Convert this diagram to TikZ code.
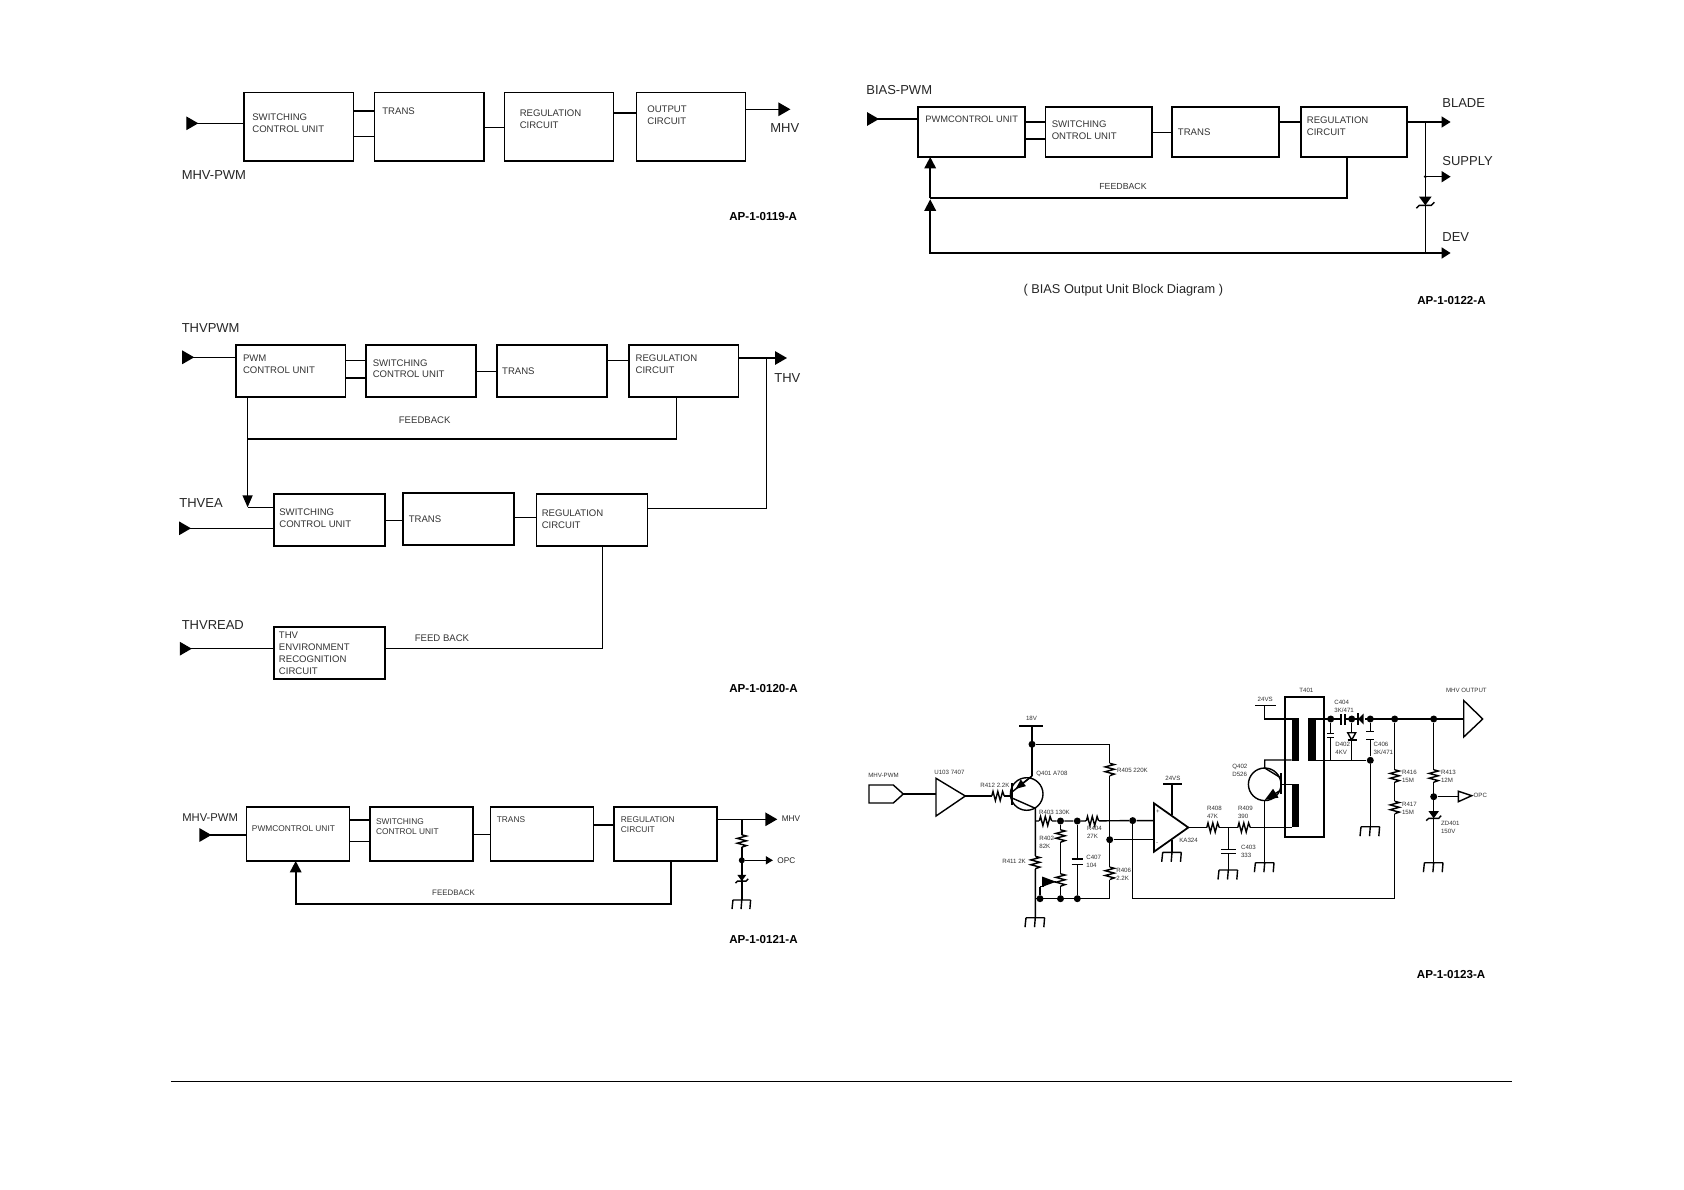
\documentclass[tikz,border=0pt]{standalone}
\usepackage{fontspec}
\setmainfont{Liberation Sans}
\usetikzlibrary{
    arrows.meta % For arrow tips
}

\begin{document}
\begin{tikzpicture}[
    x=0.02cm, y=-0.02cm, % One unit is one pixel of the sheet, y runs down
    inTip/.tip={Triangle[reversed,length=0.24cm,width=0.27cm]},
    outTip/.tip={Triangle[length=0.24cm,width=0.27cm]},
    midTip/.tip={Triangle[length=0.18cm,width=0.22cm]},
    smallTip/.tip={Triangle[length=0.14cm,width=0.16cm]},
    upTip/.tip={Triangle[length=0.23cm,width=0.23cm]},
    downTip/.tip={Triangle[length=0.24cm,width=0.2cm]},
    thin wire/.style={line width=0.72pt, line join=miter},
    wire/.style={line width=0.8pt, line join=miter},
    heavy/.style={line width=1pt},
    blockbox/.style={draw, line width=1pt, inner sep=0pt, outer sep=0pt},
    blockA/.style={blockbox, line width=0.7pt, minimum width=2.188cm, minimum height=1.366cm},
    blockB/.style={blockbox, minimum width=2.196cm, minimum height=1.034cm},
    blockC/.style={blockbox, minimum width=2.224cm, minimum height=1.04cm},
    blockD/.style={blockbox, minimum width=2.06cm, minimum height=1.086cm},
    blockE/.style={blockbox, minimum width=2.134cm, minimum height=1.006cm},
    boxtext/.style={anchor=west, inner sep=0pt, align=left, text=black!80, font=\fontsize{5.45}{6.83}\selectfont},
    boxtextD/.style={boxtext, font=\fontsize{4.75}{5.7}\selectfont},
    biglabel/.style={anchor=west, inner sep=0pt, text=black!85, font=\fontsize{7.4}{9}\selectfont},
    tinylabel/.style={anchor=west, inner sep=0pt, text=black!85, font=\fontsize{4.7}{6}\selectfont},
    partlabel/.style={anchor=west, inner sep=0pt, align=left, text=black!80, font=\fontsize{3.5}{4.55}\selectfont},
    codelabel/.style={anchor=west, inner sep=0pt, font=\bfseries\fontsize{6.6}{8}\selectfont},
    dot/.style={circle, fill, inner sep=0pt, minimum size=0.14cm},
    % Schematic parts, drawn over the wire that runs through them
    resv/.pic={
        \fill[white] (-5,-6.2) rectangle (5,6.2);
        \draw[wire] (0,-6.2) -- (4.6,-5) -- (-4.6,-2.6) -- (4.6,-0.2) -- (-4.6,2.2) -- (4.6,4.6) -- (0,6.2);
    },
    capv/.pic={
        \fill[white] (-1,-1) rectangle (1,1);
        \draw[wire] (-1,-1) -- (1,-1) (-1,1) -- (1,1);
    },
    zener/.pic={
        \fill (-5.3,-3.7) -- (5.3,-3.7) -- (0,3.6) -- cycle;
        \draw[wire] (-7.5,6) -- (-5,3.6) -- (5,3.6) -- (7.5,1);
    },
    gnd/.pic={
        \draw[wire] (-9.3,0) -- (9.3,0) (-9.3,0) -- (-10.3,9.5) (0,0) -- (-0.8,9.5) (9.3,0) -- (8.5,9.5);
    }
]

    \useasboundingbox (0,0) rectangle (1684,1190);
    \fill[white] (0,0) rectangle (1684,1190);

    % ---- AP-1-0119-A ----
    \node[blockA] (switchA) at (298.6,126.8) {};
    \node[blockA] (transA) at (429.2,126.8) {};
    \node[blockA] (regA) at (559,126.8) {};
    \node[blockA] (outA) at (690.8,126.8) {};
    \coordinate (inA) at (186.3,123.3);
    \coordinate (endA) at (790.4,109.3);

    \draw[thin wire, {inTip}-] (inA) -- (switchA.west |- inA);
    \draw[thin wire] (switchA.east |- 0,111) -- (transA.west |- 0,111);
    \draw[thin wire] (switchA.east |- 0,136.7) -- (transA.west |- 0,136.7);
    \draw[thin wire] (transA.east |- 0,127.3) -- (regA.west |- 0,127.3);
    \draw[thin wire] (regA.east |- 0,113) -- (outA.west |- 0,113);
    \draw[thin wire, -{outTip}] (outA.east |- endA) -- (endA);

    \node[boxtext] (switchAtxt) at (252,123.7) {SWITCHING\\CONTROL UNIT};
    \node[boxtext] (transAtxt) at (382,111.3) {TRANS};
    \node[boxtext] (regAtxt) at (519.4,119.2) {REGULATION\\CIRCUIT};
    \node[boxtext] (outAtxt) at (647,115.7) {OUTPUT\\CIRCUIT};
    \node[biglabel] (pwmAlbl) at (181.4,175.3) {MHV-PWM};
    \node[biglabel] (mhvAlbl) at (770,128.3) {MHV};
    \node[codelabel] (codeA) at (729,217) {AP-1-0119-A};

    % ---- AP-1-0120-A ----
    \node[blockB] (pwmB) at (290.6,370.8) {};
    \node[blockB] (switchB) at (421.2,370.8) {};
    \node[blockB] (transB) at (551.85,370.8) {};
    \node[blockB] (regB) at (683.7,370.8) {};
    \node[blockC] (switchC) at (329.4,520) {};
    \node[blockC] (transC) at (458.75,518.7) {};
    \node[blockC] (regC) at (592,520) {};
    \node[blockC] (envC) at (329.4,653.2) {};
    \coordinate (inB) at (182.2,357.3);
    \coordinate (inC) at (179,528.3);
    \coordinate (inD) at (179.8,648.7);
    \coordinate (endB) at (787,358);
    \coordinate (busR) at (766.3,358);
    \coordinate (fbL) at (247.6,438.7);
    \coordinate (fbR) at (676.5,438.7);
    \coordinate (turnC) at (247.6,507.3);
    \coordinate (turnD) at (602.7,648.7);

    \draw[wire, {inTip}-] (inB) -- (pwmB.west |- inB);
    \draw[wire] (pwmB.east |- 0,360.7) -- (switchB.west |- 0,360.7);
    \draw[heavy] (pwmB.east |- 0,378) -- (switchB.west |- 0,378);
    \draw[wire] (switchB.east |- 0,371.3) -- (transB.west |- 0,371.3);
    \draw[wire] (transB.east |- 0,360.7) -- (regB.west |- 0,360.7);
    \draw[wire, -{outTip}] (regB.east |- endB) -- (endB);
    \draw[wire, -{downTip}] (fbL |- pwmB.south) -- (turnC);
    \draw[wire] (turnC) -- (switchC.west |- turnC);
    \draw[heavy] (fbL) -- (fbR);
    \draw[wire] (fbR) -- (fbR |- regB.south);
    \draw[wire, {inTip}-] (inC) -- (switchC.west |- inC);
    \draw[wire] (switchC.east |- 0,520.7) -- (transC.west |- 0,520.7);
    \draw[wire] (transC.east |- 0,517.7) -- (regC.west |- 0,517.7);
    \draw[wire] (regC.east |- 0,508.3) -- (busR |- 0,508.3) -- (busR);
    \draw[wire] (turnD |- regC.south) -- (turnD) -- (envC.east |- turnD);
    \draw[wire, {inTip}-] (inD) -- (envC.west |- inD);

    \node[boxtext] (pwmBtxt) at (242.7,363.8) {PWM\\CONTROL UNIT};
    \node[boxtext] (switchBtxt) at (372.4,368.7) {SWITCHING\\CONTROL UNIT};
    \node[boxtext] (transBtxt) at (501.8,371) {TRANS};
    \node[boxtext] (regBtxt) at (635.3,364) {REGULATION\\CIRCUIT};
    \node[boxtext] (switchCtxt) at (279,518.3) {SWITCHING\\CONTROL UNIT};
    \node[boxtext] (transCtxt) at (408.4,519) {TRANS};
    \node[boxtext] (regCtxt) at (541.4,519.2) {REGULATION\\CIRCUIT};
    \node[boxtext] (envCtxt) at (278.6,653.5) {THV\\ENVIRONMENT\\RECOGNITION\\CIRCUIT};
    \node[boxtext, anchor=center] (fbBtxt) at (424.7,420) {FEEDBACK};
    \node[boxtext] (fbDtxt) at (414.5,638.3) {FEED BACK};
    \node[biglabel] (thvpwm) at (181.4,327.7) {THVPWM};
    \node[biglabel] (thvea) at (179,503.3) {THVEA};
    \node[biglabel] (thvread) at (181.4,625.3) {THVREAD};
    \node[biglabel] (thvlbl) at (774,377.7) {THV};
    \node[codelabel] (codeB) at (729,688.3) {AP-1-0120-A};

    % ---- AP-1-0121-A ----
    \node[blockD] (pwmE) at (298,833.8) {};
    \node[blockD] (switchE) at (421.5,833.8) {};
    \node[blockD] (transE) at (541.9,833.8) {};
    \node[blockD] (regE) at (665.3,833.8) {};
    \coordinate (inE) at (199.4,835);
    \coordinate (endE) at (777.3,819.3);
    \coordinate (tapE) at (741.8,819.3);
    \coordinate (gndE) at (741.8,900);
    \node[dot, minimum size=0.12cm] (opcE) at (741.8,860.3) {};
    \coordinate (opcEnd) at (772.9,860.3);
    \coordinate (fbEL) at (295.7,904);
    \coordinate (fbER) at (670.8,904);

    \draw[wire, {inTip}-] (inE) -- (pwmE.west |- inE);
    \draw[wire] (pwmE.east |- 0,820) -- (switchE.west |- 0,820);
    \draw[wire] (pwmE.east |- 0,841.7) -- (switchE.west |- 0,841.7);
    \draw[wire] (switchE.east |- 0,834.3) -- (transE.west |- 0,834.3);
    \draw[wire] (transE.east |- 0,825) -- (regE.west |- 0,825);
    \draw[wire, -{outTip}] (regE.east |- endE) -- (endE);
    \draw[wire] (tapE) -- (gndE);
    \draw[wire, -{smallTip}] (opcE) -- (opcEnd);
    \draw[heavy, -{upTip}] (fbER |- regE.south) -- (fbER) -- (fbEL) -- (fbEL |- pwmE.south);
    \pic at (741.8,841) {resv};
    \pic[scale=0.85] at (741.8,878) {zener};
    \pic[scale=0.95] at (gndE) {gnd};

    \node[boxtextD] (pwmEtxt) at (251.6,828.3) {PWMCONTROL UNIT};
    \node[boxtextD] (switchEtxt) at (375.7,827) {SWITCHING\\CONTROL UNIT};
    \node[boxtextD] (transEtxt) at (496.5,819.7) {TRANS};
    \node[boxtextD] (regEtxt) at (620.6,824.3) {REGULATION\\CIRCUIT};
    \node[boxtextD, anchor=center, font=\fontsize{4.5}{5.7}\selectfont] (fbEtxt) at (453.5,892.7) {FEEDBACK};
    \node[biglabel, font=\fontsize{6.4}{8}\selectfont] (pwmElbl) at (182,817.3) {MHV-PWM};
    \node[tinylabel] (mhvElbl) at (781.4,819) {MHV};
    \node[tinylabel] (opcElbl) at (777,861) {OPC};
    \node[codelabel] (codeE) at (729,939) {AP-1-0121-A};

    % ---- AP-1-0122-A ----
    \node[blockE] (pwmF) at (971.65,131.8) {};
    \node[blockE] (switchF) at (1098.75,131.8) {};
    \node[blockE] (transF) at (1225.5,131.8) {};
    \node[blockE] (regF) at (1354,131.8) {};
    \coordinate (inF) at (867,119);
    \coordinate (bladeEnd) at (1450.6,122);
    \coordinate (tapF) at (1425.3,122);
    \coordinate (supplyTap) at (1425.3,176.7);
    \coordinate (supplyEnd) at (1450.6,176.7);
    \coordinate (devTap) at (1425.3,253);
    \coordinate (devEnd) at (1450.6,253);
    \coordinate (busL) at (930.2,253);
    \coordinate (joinF) at (930.2,198);
    \coordinate (fbFR) at (1347,198);

    \draw[wire, {inTip}-] (inF) -- (pwmF.west |- inF);
    \draw[wire] (pwmF.east |- 0,122) -- (switchF.west |- 0,122);
    \draw[heavy] (pwmF.east |- 0,139) -- (switchF.west |- 0,139);
    \draw[wire] (switchF.east |- 0,132.7) -- (transF.west |- 0,132.7);
    \draw[wire] (transF.east |- 0,122) -- (regF.west |- 0,122);
    \draw[wire, -{midTip}] (regF.east |- bladeEnd) -- (bladeEnd);
    \draw[thin wire] (tapF) -- (devTap);
    \fill (supplyTap) circle (1.6);
    \draw[wire, -{midTip}] (supplyTap) -- (supplyEnd);
    \draw[heavy, -{upTip}] (devEnd) ++(-9,0) -- (busL) -- (930.2,199.3);
    \draw[heavy, -{midTip}] (devTap) -- (devEnd);
    \draw[wire] (fbFR |- regF.south) -- (fbFR) -- (joinF);
    \draw[heavy, -{upTip}] (joinF) -- (joinF |- pwmF.south);
    \pic[scale=1.2] at (1425.3,201) {zener};

    \node[boxtext, font=\fontsize{5.3}{6.83}\selectfont] (pwmFtxt) at (925,119.7) {PWMCONTROL UNIT};
    \node[boxtext] (switchFtxt) at (1051.4,130.2) {SWITCHING\\ONTROL UNIT};
    \node[boxtext] (transFtxt) at (1177.6,132) {TRANS};
    \node[boxtext] (regFtxt) at (1306.5,125.9) {REGULATION\\CIRCUIT};
    \node[boxtext, anchor=center, font=\fontsize{5}{6}\selectfont] (fbFtxt) at (1123,186.3) {FEEDBACK};
    \node[biglabel] (biaspwm) at (866,89.7) {BIAS-PWM};
    \node[biglabel] (bladelbl) at (1442,103.3) {BLADE};
    \node[biglabel] (supplylbl) at (1442,160.7) {SUPPLY};
    \node[biglabel] (devlbl) at (1442,237) {DEV};
    \node[biglabel, anchor=center, font=\fontsize{7.27}{9}\selectfont] (caption) at (1123.3,290) {( BIAS Output Unit Block Diagram )};
    \node[codelabel] (codeF) at (1417,301) {AP-1-0122-A};

    % ---- AP-1-0123-A, schematic ----
    \coordinate (pwmTip) at (903.3,794);
    \coordinate (bufIn) at (936,794);
    \coordinate (bufOut) at (965.3,796);
    \coordinate (baseA) at (1012,796);
    \coordinate (emitA) at (1032,776);
    \coordinate (collA) at (1035.3,808.3);
    \coordinate (railA) at (1032,726);
    \node[dot] (railDot) at (1032,744.3) {};
    \coordinate (railB) at (1109.7,744.3);
    \coordinate (railC) at (1109.7,898.7);
    \node[dot] (gndDotA) at (1040,898.7) {};
    \node[dot] (gndDotB) at (1060.5,898.7) {};
    \node[dot] (gndDotC) at (1077.3,898.7) {};
    \coordinate (gndA) at (1035.3,917.7);
    \coordinate (nodeA) at (1035.3,821);
    \node[dot] (nodeB) at (1060.5,821) {};
    \node[dot] (nodeC) at (1077.3,821) {};
    \node[dot] (nodeD) at (1132.7,820.6) {};
    \node[dot] (nodeE) at (1109.7,839.7) {};
    \coordinate (ampPlus) at (1154,820.6);
    \coordinate (ampMinus) at (1154,839.7);
    \coordinate (ampOut) at (1188.3,827.5);
    \coordinate (fbBot) at (1132.7,898.7);
    \coordinate (fbTurn) at (1394.7,898.7);
    \node[dot] (fbDot) at (1394.7,719) {};
    \coordinate (ampVcc) at (1172,784);
    \coordinate (ampGnd) at (1172,852.3);
    \coordinate (capTop) at (1228.3,827.5);
    \coordinate (capGnd) at (1228.3,870);
    \coordinate (coilB) at (1291.7,827.5);
    \coordinate (baseB) at (1281,784.3);
    \coordinate (coilC) at (1291.7,784.3);
    \coordinate (collB) at (1264.7,768);
    \coordinate (coilD) at (1291.7,760);
    \coordinate (emitB) at (1264.7,800);
    \coordinate (gndB) at (1264.7,862.7);
    \coordinate (vsTop) at (1264.7,705.3);
    \coordinate (coilE) at (1291.7,719);
    \coordinate (secTop) at (1315.7,719);
    \coordinate (secBot) at (1315.7,760.3);
    \node[dot] (secDotA) at (1330.7,719) {};
    \node[dot] (secDotB) at (1351.7,719) {};
    \node[dot] (secDotC) at (1370.3,719) {};
    \node[dot] (secDotD) at (1370.3,760.3) {};
    \coordinate (secGnd) at (1370.3,826.7);
    \coordinate (hvOut) at (1463.7,719);
    \node[dot] (hvDot) at (1433.7,719) {};
    \node[dot] (opcDot) at (1433.7,796.7) {};
    \coordinate (hvGnd) at (1433.7,862.7);
    \coordinate (opcIn) at (1458.3,796.7);

    % Wires
    \draw[wire] (869,785) -- (893.3,785) -- (pwmTip) -- (893.3,803) -- (869,803) -- cycle;
    \draw[wire] (pwmTip) -- (bufIn);
    \draw[wire] (936,778.3) -- (936,816) -- (bufOut) -- cycle;
    \draw[wire] (bufOut) -- (baseA);
    \node[draw, wire, circle, inner sep=0pt, minimum size=0.652cm] (tranA) at (1026.7,794) {};
    \draw[wire] (1012,783.3) -- (1012,805);
    \draw[wire] (1012,798) -- (collA) -- (gndA);
    \draw[wire, -{Triangle[length=0.2cm,width=0.16cm]}] (emitA) -- (1015.5,789);
    \draw[wire] (emitA) -- (1012,792);
    \draw[wire] (railA) -- (emitA);
    \draw[wire] (1019.3,726) -- (1043.3,726);
    \draw[wire] (railDot) -- (railB) -- (railC) -- (gndA |- railC);
    \draw[wire] (nodeA) -- (nodeB) -- (nodeC) -- (nodeD) -- (ampPlus);
    \draw[wire] (nodeB) -- (gndDotB);
    \draw[wire] (nodeC) -- (gndDotC);
    \draw[wire] (nodeE) -- (ampMinus);
    \draw[wire] (nodeD) -- (fbBot) -- (fbTurn) -- (fbDot);
    \draw[wire] (1040,886.5) -- (gndDotA);
    \draw[wire] (1040,886.5) -- (1044,886.5);
    \fill (1042,876.5) -- (1042,887) -- (1056,881.7) -- cycle;
    \draw[wire] (1054,881.7) -- (1060.5,881.7);
    \draw[wire, line width=1pt] (1154,803.3) -- (1154,851.7) -- (ampOut) -- cycle;
    \draw[wire] (1163.3,784) -- (1182,784);
    \draw[wire] (ampVcc) -- (1172,815.4);
    \draw[wire] (1172,839.8) -- (ampGnd);
    \draw[wire] (ampOut) -- (coilB);
    \draw[wire] (capTop) -- (capGnd);
    \node[draw, wire, circle, inner sep=0pt, minimum size=0.652cm] (tranB) at (1264.7,784.3) {};
    \draw[wire] (1281,773.3) -- (1281,794.3);
    \draw[wire] (baseB) -- (coilC);
    \draw[wire] (1281,778) -- (collB) -- (1264.7,760) -- (coilD);
    \draw[wire] (emitB) -- (gndB);
    \draw[wire, -{Triangle[length=0.26cm,width=0.2cm]}] (1281,790) -- (emitB);
    \draw[wire] (1255.3,705.3) -- (1276,705.3);
    \draw[wire] (vsTop) -- (1264.7,719) -- (coilE);
    \node[draw, line width=1.1pt, inner sep=0pt, minimum width=0.774cm, minimum height=2.8cm] (tfmr) at (1304.35,766.7) {};
    \fill (1291.7,718.3) rectangle (1299.3,761);
    \fill (1307.7,718.3) rectangle (1315.7,761);
    \fill (1291.7,784) rectangle (1299.3,826.5);
    \draw[wire] (secTop) -- (hvOut);
    \draw[wire] (secBot) -- (secDotD);
    \draw[wire] (secDotA) -- (secDotA |- secBot);
    \draw[wire] (secDotB) -- (secDotB |- secBot);
    \draw[wire] (secDotC) -- (secDotD) -- (secGnd);
    \draw[wire] (1463.7,700.5) -- (1463.7,737) -- (1482.7,719) -- cycle;
    \draw[wire] (hvDot) -- (hvGnd);
    \draw[wire] (opcDot) -- (opcIn);
    \draw[wire] (opcIn) ++(0,-5.5) -- ++(0,10.5) -- (1471.7,795.7) -- cycle;

    % Parts on the wires
    \pic[rotate=90] at (998,796) {resv};
    \pic[rotate=90] at (1045.5,821) {resv};
    \pic[rotate=90] at (1092.5,821) {resv};
    \pic at (1060.5,836) {resv};
    \pic at (1060.5,880) {resv};
    \pic at (1035.3,862.5) {resv};
    \pic at (1109.7,769.5) {resv};
    \pic at (1109.7,873.3) {resv};
    \pic[rotate=90] at (1213,827.5) {resv};
    \pic[rotate=90] at (1244,827.5) {resv};
    \pic at (1394.7,776) {resv};
    \pic at (1394.7,807.5) {resv};
    \pic at (1433.7,776) {resv};
    \pic[xscale=5.7,yscale=2.7] at (1077.3,861.7) {capv};
    \pic[xscale=7.5,yscale=2] at (1228.3,851.3) {capv};
    \pic[xscale=3.7,yscale=2] at (1330.7,735.3) {capv};
    \pic[xscale=3.9,yscale=3.8] at (1370.3,735.5) {capv};
    \pic[rotate=90,xscale=5.5,yscale=2] at (1343,719) {capv};
    \fill[white] (1356.5,713) rectangle (1364.5,725);
    \fill (1358,719) -- (1363.7,713.5) -- (1363.7,724.5) -- cycle;
    \draw[wire] (1358,713) -- (1358,725);
    \draw[wire, fill=white] (1347.7,732.7) -- (1355.7,732.7) -- (1351.7,740) -- cycle;
    \draw[wire] (1347.5,740) -- (1356.5,740);
    \pic at (1433.7,814.7) {zener};
    \pic at (gndA) {gnd};
    \pic at (ampGnd) {gnd};
    \pic at (capGnd) {gnd};
    \pic at (gndB) {gnd};
    \pic at (secGnd) {gnd};
    \pic at (hvGnd) {gnd};

    % Labels
    \node[partlabel] (lblPwm) at (868,775.7) {MHV-PWM};
    \node[partlabel] (lblU103) at (934,772) {U103 7407};
    \node[partlabel] (lblR412) at (980,785.3) {R412 2.2K};
    \node[partlabel] (lbl18V) at (1025.7,718.7) {18V};
    \node[partlabel] (lblQ401) at (1036,774.3) {Q401 A708};
    \node[partlabel] (lblR403) at (1038.7,812) {R403 130K};
    \node[partlabel] (lblR404) at (1086.7,832.5) {R404\\27K};
    \node[partlabel] (lblR402) at (1039,842.3) {R402\\82K};
    \node[partlabel] (lblR411) at (1002,861.7) {R411 2K};
    \node[partlabel] (lblC407) at (1086,861.7) {C407\\104};
    \node[partlabel] (lblR405) at (1116.7,770.3) {R405 220K};
    \node[partlabel] (lblR406) at (1116,874.2) {R406\\2.2K};
    \node[partlabel] (lblVcc) at (1165,778.3) {24VS};
    \node[partlabel] (lblPlus) at (1155.8,812) {+};
    \node[partlabel] (lblMinus) at (1155.8,844) {-};
    \node[partlabel] (lblKa324) at (1179,840.7) {KA324};
    \node[partlabel] (lblR408) at (1206.7,812.3) {R408\\47K};
    \node[partlabel] (lblR409) at (1237.7,812.3) {R409\\390};
    \node[partlabel] (lblC403) at (1240.7,851.7) {C403\\333};
    \node[partlabel] (lblQ402) at (1232,770.3) {Q402\\D526};
    \node[partlabel] (lblVs) at (1257.3,699.7) {24VS};
    \node[partlabel] (lblT401) at (1299,690.7) {T401};
    \node[partlabel] (lblC404) at (1334,706) {C404\\3K/471};
    \node[partlabel] (lblD402) at (1335,748.7) {D402\\4KV};
    \node[partlabel] (lblC406) at (1373.3,748) {C406\\3K/471};
    \node[partlabel] (lblR416) at (1401.7,776.5) {R416\\15M};
    \node[partlabel] (lblR417) at (1401.7,808.2) {R417\\15M};
    \node[partlabel] (lblR413) at (1440.7,776.5) {R413\\12M};
    \node[partlabel] (lblOpc) at (1473.3,795.7) {OPC};
    \node[partlabel] (lblZd401) at (1440.7,827.7) {ZD401\\150V};
    \node[partlabel] (lblOut) at (1445.7,690.7) {MHV OUTPUT};
    \node[codelabel] (codeG) at (1416.6,975) {AP-1-0123-A};

    % Rule at the foot of the sheet
    \coordinate (footL) at (170.8,1081.5);
    \coordinate (footR) at (1512,1081.5);
    \draw[line width=0.6pt] (footL) -- (footR);

\end{tikzpicture}
\end{document}
